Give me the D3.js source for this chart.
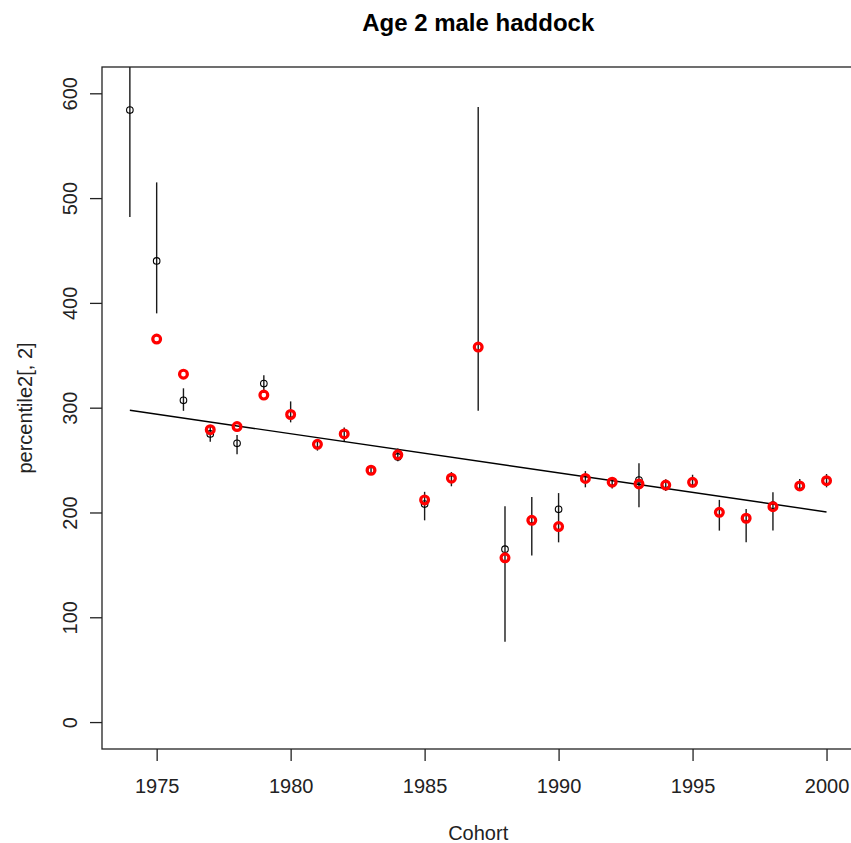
<!DOCTYPE html>
<html>
<head>
<meta charset="utf-8">
<script src="https://cdn.jsdelivr.net/npm/d3@7"></script>
<style>
  body { margin: 0; background: #fff; }
  svg { display: block; font-family: "Liberation Sans", Arial, sans-serif; }
</style>
</head>
<body>
<svg id="chart" width="851" height="843"></svg>
<script>
// cohort years
const cohorts = [1974, 1975, 1976, 1977, 1978, 1979, 1980, 1981, 1982, 1983, 1984, 1985, 1986, 1987,
  1988, 1989, 1990, 1991, 1992, 1993, 1994, 1995, 1996, 1997, 1998, 1999, 2000];
// black points (percentile2[, 2])
const median = [584, 440, 307, 275, 266, 323, 294, 265, 275, 240, 253, 208, 232, 358,
  165, 193, 203, 232, 229, 231, 227, 229, 200, 195, 207, 226, 230];
// error bar ends
const lower = [482, 390, 297, 267.5, 255.5, 314, 286, 259, 268, 236, 249, 192.5, 225, 297,
  76.6, 159, 171.5, 224, 223, 205, 220.5, 224, 182.7, 171.6, 182.7, 220.8, 224];
const upper = [690, 515, 318.5, 282, 274, 331, 306, 270, 281, 245, 261, 219.7, 238.6, 587,
  206, 214.7, 218.5, 239.5, 233, 247, 231.7, 236, 212, 203.3, 219.3, 232, 236.7];
// red points
const redYears = [1975, 1976, 1977, 1978, 1979, 1980, 1981, 1982, 1983, 1984, 1985, 1986, 1987,
  1988, 1989, 1990, 1991, 1992, 1993, 1994, 1995, 1996, 1997, 1998, 1999, 2000];
const redValues = [365.5, 332, 279, 282, 312, 293.5, 265, 275, 240.3, 255, 212, 232.7, 357.8,
  156.7, 192.5, 186.6, 232.5, 228.9, 227.2, 226.2, 228.8, 200.2, 194.5, 205.5, 225.3, 230.3];
// fitted trend line
const trendYears = [1974, 2000];
const trendValues = [297.5, 200.5];

const xTicks = [1975, 1980, 1985, 1990, 1995, 2000];
const yTicks = [0, 100, 200, 300, 400, 500, 600];

const svg = d3.select('#chart');
const plotLeft = 102, plotRight = 854.4, plotTop = 67, plotBottom = 749;

// R style 4% padding
const x = d3.scaleLinear().domain([1972.96, 2001.04]).range([plotLeft, plotRight]);
const y = d3.scaleLinear().domain([-25.7, 625.1]).range([plotBottom, plotTop]);

svg.append('defs').append('clipPath').attr('id', 'plotclip')
  .append('rect')
  .attr('x', plotLeft).attr('y', plotTop)
  .attr('width', plotRight - plotLeft).attr('height', plotBottom - plotTop);

const plot = svg.append('g').attr('clip-path', 'url(#plotclip)');

// error bars
plot.selectAll('.bar')
  .data(cohorts)
  .enter().append('line')
  .attr('class', 'bar')
  .attr('x1', (d) => x(d)).attr('x2', (d) => x(d))
  .attr('y1', (d, i) => y(lower[i]))
  .attr('y2', (d, i) => y(upper[i]))
  .attr('stroke', '#1a1a1a')
  .attr('stroke-width', 1.4);

// black open circles
plot.selectAll('.med')
  .data(cohorts)
  .enter().append('circle')
  .attr('class', 'med')
  .attr('cx', (d) => x(d))
  .attr('cy', (d, i) => y(median[i]))
  .attr('r', 3.3)
  .attr('fill', 'none')
  .attr('stroke', '#000')
  .attr('stroke-width', 1.1);

// trend line
plot.append('path')
  .datum(trendYears.map((d, i) => [d, trendValues[i]]))
  .attr('d', d3.line().x((d) => x(d[0])).y((d) => y(d[1])))
  .attr('fill', 'none')
  .attr('stroke', '#000')
  .attr('stroke-width', 1.4);

// red open circles
plot.selectAll('.red')
  .data(redYears)
  .enter().append('circle')
  .attr('class', 'red')
  .attr('cx', (d) => x(d))
  .attr('cy', (d, i) => y(redValues[i]))
  .attr('r', 3.9)
  .attr('fill', 'none')
  .attr('stroke', '#ff0000')
  .attr('stroke-width', 3.2);

// frame
svg.append('rect')
  .attr('x', plotLeft).attr('y', plotTop)
  .attr('width', plotRight - plotLeft).attr('height', plotBottom - plotTop)
  .attr('fill', 'none')
  .attr('stroke', '#222')
  .attr('stroke-width', 1.3);

// x axis
const xAxis = svg.append('g')
  .attr('transform', 'translate(0,' + plotBottom + ')')
  .call(d3.axisBottom(x).tickValues(xTicks).tickFormat(d3.format('d')).tickSize(12).tickPadding(18));
xAxis.select('.domain').remove();
xAxis.selectAll('line').attr('stroke', '#222').attr('stroke-width', 1.3);
xAxis.selectAll('text')
  .attr('fill', '#222')
  .style('font-size', '20px')
  .style('font-family', '"Liberation Sans", Arial, sans-serif');

// y axis
const yAxis = svg.append('g')
  .attr('transform', 'translate(' + plotLeft + ',0)')
  .call(d3.axisLeft(y).tickValues(yTicks).tickSize(12).tickFormat((d) => d));
yAxis.select('.domain').remove();
yAxis.selectAll('line').attr('stroke', '#222').attr('stroke-width', 1.3);
yAxis.selectAll('text')
  .attr('fill', '#222')
  .attr('x', null).attr('dy', null)
  .attr('text-anchor', 'middle')
  .attr('transform', 'translate(-25,0) rotate(-90)')
  .attr('y', 0)
  .style('font-size', '20px')
  .style('font-family', '"Liberation Sans", Arial, sans-serif');

// title
svg.append('text')
  .attr('x', (plotLeft + plotRight) / 2)
  .attr('y', 31)
  .attr('text-anchor', 'middle')
  .style('font-size', '24px')
  .style('font-weight', 'bold')
  .attr('fill', '#000')
  .text('Age 2 male haddock');

// axis labels
svg.append('text')
  .attr('x', (plotLeft + plotRight) / 2)
  .attr('y', 840)
  .attr('text-anchor', 'middle')
  .style('font-size', '20px')
  .attr('fill', '#222')
  .text('Cohort');

svg.append('text')
  .attr('transform', 'translate(32,' + (plotTop + plotBottom) / 2 + ') rotate(-90)')
  .attr('text-anchor', 'middle')
  .style('font-size', '20px')
  .attr('fill', '#222')
  .text('percentile2[, 2]');
</script>
</body>
</html>
